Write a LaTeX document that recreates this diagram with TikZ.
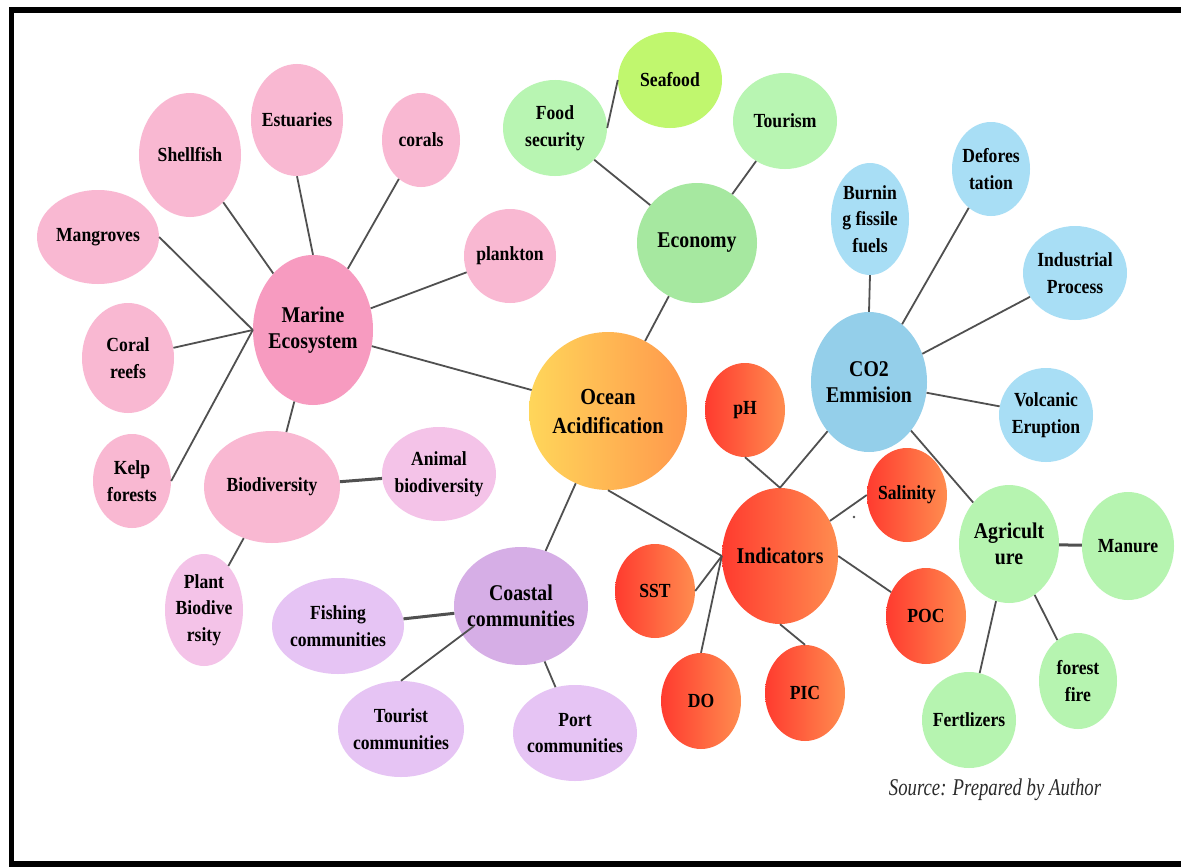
\documentclass[tikz,border=0pt]{standalone}
\usepackage{fontspec}
\setmainfont[FakeStretch=0.88]{Liberation Serif}
\newfontfamily\srcfont[FakeStretch=0.78]{Liberation Serif}
\usetikzlibrary{shapes.geometric}
\definecolor{pinkM}{HTML}{F79BC0}
\definecolor{pinkL}{HTML}{F9B8D2}
\definecolor{lilac}{HTML}{F4C3E8}
\definecolor{greenE}{HTML}{A6E8A0}
\definecolor{greenL}{HTML}{B8F5B2}
\definecolor{seaf}{HTML}{C0F76E}
\definecolor{blueC}{HTML}{94CFEA}
\definecolor{blueL}{HTML}{A8DEF5}
\definecolor{agriG}{HTML}{B6F4B0}
\definecolor{coastC}{HTML}{D6AEE6}
\definecolor{coastL}{HTML}{E6C4F4}
\definecolor{ocL}{HTML}{FFD65A}
\definecolor{ocR}{HTML}{FF984C}
\definecolor{redL}{HTML}{FF3B2F}
\definecolor{redR}{HTML}{FF8C4F}
\definecolor{linegray}{HTML}{505050}
\definecolor{srcgray}{HTML}{2A2A2A}
\begin{document}
\begin{tikzpicture}[x=1pt,y=-1pt,
  bub/.style={ellipse, inner sep=-30pt, align=center, text=black},
  sz/.style 2 args={minimum width=#1pt, minimum height=#2pt},
  txs/.style={font=\fontsize{20}{26.5}\selectfont\bfseries},
  txb/.style={font=\fontsize{22.5}{26.5}\selectfont\bfseries},
  redgrad/.style={left color=redL, right color=redR},
  con/.style={draw=linegray, line width=1.8pt},
  conthick/.style={draw=linegray, line width=3pt}]
\fill[white] (0,0) rectangle (1181,867);
\useasboundingbox (0,0) rectangle (1181,867);
% frame
\fill[black] (9,7) rectangle (1181,13);
\fill[black] (9,7) rectangle (14,867);
\fill[black] (9,861) rectangle (1181,867);

% Marine ecosystem group
\node[bub,sz={120}{150},fill=pinkM,txb] (mar) at (313,330) {Marine\\Ecosystem};
\node[bub,sz={102}{124},fill=pinkL,txs] (shell) at (190,155) {Shellfish};
\node[bub,sz={92}{112},fill=pinkL,txs] (est) at (297,120) {Estuaries};
\node[bub,sz={78}{94},fill=pinkL,txs] (cor) at (421,140) {corals};
\node[bub,sz={122}{94},fill=pinkL,txs] (mang) at (98,237) {Mangroves};
\node[bub,sz={92}{94},fill=pinkL,txs] (plank) at (510,256) {plankton};
\node[bub,sz={92}{110},fill=pinkL,txs] (creef) at (128,358) {Coral\\reefs};
\node[bub,sz={78}{94},fill=pinkL,txs] (kelp) at (132,481) {Kelp\\forests};
\node[bub,sz={136}{112},fill=pinkL,txs] (bio) at (272,487) {Biodiversity};
\node[bub,sz={114}{94},fill=lilac,txs] (anim) at (439,474) {Animal\\biodiversity};
\node[bub,sz={78}{112},fill=lilac,txs] (plant) at (204,610) {Plant\\Biodive\\rsity};

% Economy group
\node[bub,sz={120}{120},fill=greenE,txb] (econ) at (697,243) {Economy};
\node[bub,sz={104}{96},fill=greenL,txs] (food) at (555,128) {Food\\security};
\node[bub,sz={104}{96},fill=seaf,txs] (sea) at (670,80) {Seafood};
\node[bub,sz={104}{96},fill=greenL,txs] (tour) at (785,121) {Tourism};

% Ocean acidification
\node[bub,sz={158}{158},left color=ocL,right color=ocR,font=\fontsize{23}{29}\selectfont\bfseries] (ocean) at (608,411) {Ocean\\Acidification};

% CO2 group
\node[bub,sz={116}{140},fill=blueC,txb] (co2) at (869,382) {CO2\\Emmision};
\node[bub,sz={78}{112},fill=blueL,txs] (burn) at (870,219) {Burnin\\g fissile\\fuels};
\node[bub,sz={78}{94},fill=blueL,txs] (defor) at (991,169) {Defores\\tation};
\node[bub,sz={104}{94},fill=blueL,txs] (indus) at (1075,273) {Industrial\\Process};
\node[bub,sz={94}{94},fill=blueL,txs] (volc) at (1046,415) {Volcanic\\Eruption};

% Indicators group
\node[bub,sz={116}{136},redgrad,txb] (ind) at (780,556) {Indicators};
\node[bub,sz={80}{94},redgrad,txs] (ph) at (745,410) {pH};
\node[bub,sz={80}{94},redgrad,txs] (sal) at (907,495) {Salinity};
\node[bub,sz={80}{94},redgrad,txs] (sst) at (655,591) {SST};
\node[bub,sz={80}{96},redgrad,txs] (poc) at (926,616) {POC};
\node[bub,sz={80}{96},redgrad,txs] (dox) at (701,701) {DO};
\node[bub,sz={80}{96},redgrad,txs] (pic) at (805,693) {PIC};

% Agriculture group
\node[bub,sz={100}{118},fill=agriG,txb] (agri) at (1009,544) {Agricult\\ure};
\node[bub,sz={92}{108},fill=agriG,txs] (man) at (1128,546) {Manure};
\node[bub,sz={78}{96},fill=agriG,txs] (ff) at (1078,681) {forest\\fire};
\node[bub,sz={94}{96},fill=agriG,txs] (fert) at (969,720) {Fertlizers};

% Coastal group
\node[bub,sz={134}{118},fill=coastC,txb] (coast) at (521,606) {Coastal\\communities};
\node[bub,sz={132}{96},fill=coastL,txs] (fish) at (338,626) {Fishing\\communities};
\node[bub,sz={126}{96},fill=coastL,txs] (tourc) at (401,729) {Tourist\\communities};
\node[bub,sz={124}{96},fill=coastL,txs] (port) at (575,733) {Port\\communities};
\coordinate (cci) at (474,626);

% source
\node[font=\srcfont\fontsize{24}{28}\selectfont\itshape, text=srcgray] (src) at (995,790) {Source: Prepared by Author};

% connectors
\draw[con] (mar) -- (ocean);
\draw[con] (shell) -- (mar);
\draw[con] (est.south) -- (mar.north);
\draw[con] (cor) -- (mar);
\draw[con] (plank) -- (mar);
\draw[con] (mang.east) -- (mar.west);
\draw[con] (creef) -- (mar.west);
\draw[con] (kelp.east) -- (mar.west);
\draw[con] (mar) -- (bio);
\draw[conthick] (bio) -- (anim);
\draw[con] (bio) -- (plant);
\draw[con] (ocean) -- (econ);
\draw[con] (econ) -- (food);
\draw[con] (food.east) -- (sea.west);
\draw[con] (econ) -- (tour);
\draw[con] (burn.south) -- (co2.north);
\draw[con] (co2) -- (defor);
\draw[con] (co2) -- (indus);
\draw[con] (co2) -- (volc);
\draw[con] (co2) -- (ind.north);
\draw[con] (ph.south) -- (ind.north);
\draw[con] (co2) -- (agri);
\draw[con] (ocean.south) -- (ind.west);
\draw[con] (ind) -- (sal.west);
\draw[con] (ind.east) -- (poc);
\draw[con] (sst.east) -- (ind.west);
\draw[con] (dox.north) -- (ind.west);
\draw[con] (ind.south) -- (pic.north);
\draw[conthick] (agri) -- (man);
\draw[con] (agri) -- (ff);
\draw[con] (agri) -- (fert);
\draw[con] (ocean) -- (coast);
\draw[conthick] (coast) -- (fish);
\draw[con] (tourc.north) -- (cci);
\draw[con] (coast) -- (port);
\fill[linegray] (854,517) circle (1.3);
\end{tikzpicture}
\end{document}
